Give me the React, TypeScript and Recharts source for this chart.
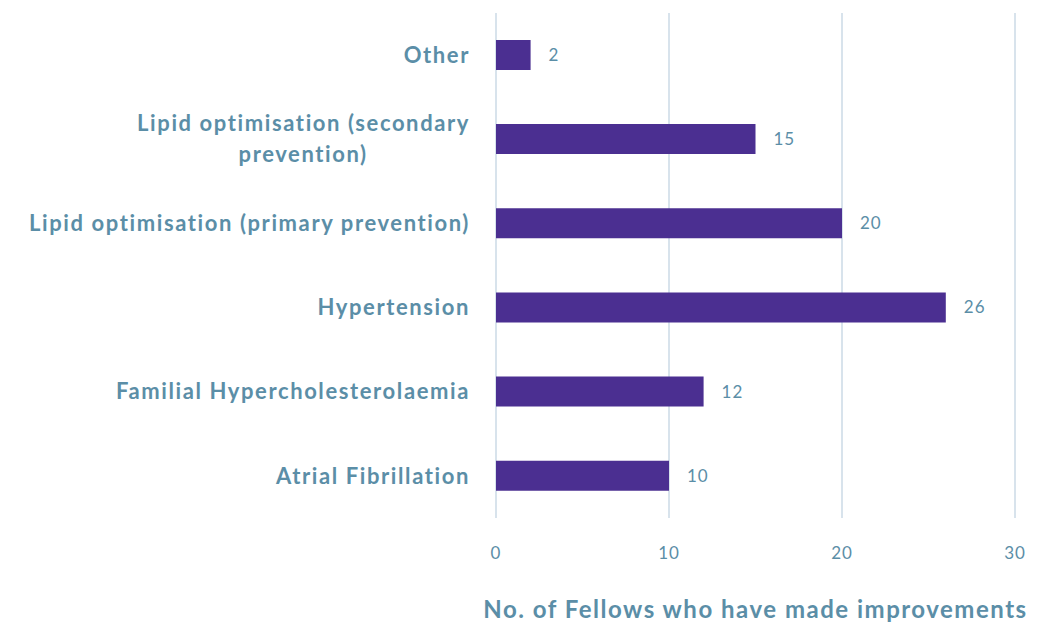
import React from 'react'
import { BarChart, Bar, XAxis, YAxis, CartesianGrid, LabelList, Label } from 'recharts'

const categories = [
  'Other',
  'Lipid optimisation (secondary prevention)',
  'Lipid optimisation (primary prevention)',
  'Hypertension',
  'Familial Hypercholesterolaemia',
  'Atrial Fibrillation',
]
const fellows = [2, 15, 20, 26, 12, 10]
const xTicks = [0, 10, 20, 30]
const axisTitle = 'No. of Fellows who have made improvements'

// where long category names break onto a second line
const labelBreaks: Record<string, string[]> = {
  'Lipid optimisation (secondary prevention)': ['Lipid optimisation (secondary', 'prevention)'],
}

const data = categories.map((name, i) => ({ name, value: fellows[i] }))

const TEXT = '#5b8ea7'
const BAR = '#4b2f91'
const FONT = 'Lato, "Open Sans", sans-serif'
const CAT_FONT_SIZE = 22
const CAT_SPACING = 1.6

let ctx: CanvasRenderingContext2D | null = null
function measure(s: string) {
  if (!ctx) ctx = document.createElement('canvas').getContext('2d')
  if (!ctx) return s.length * 12
  ctx.font = `bold ${CAT_FONT_SIZE}px Lato`
  return ctx.measureText(s).width + s.length * CAT_SPACING
}

// category tick: right aligned, extra lines centred under the first one
function CategoryTick({ x, y, payload }: any) {
  const lines = labelBreaks[payload.value] ?? [payload.value]
  const right = x - 18
  const lh = 31
  const y0 = y - ((lines.length - 1) * lh) / 2
  const w = measure(lines[0])
  return (
    <g>
      {lines.map((l, i) => (
        <text
          key={i}
          x={i === 0 ? right : right - w / 2}
          y={y0 + i * lh}
          dy="0.35em"
          textAnchor={i === 0 ? 'end' : 'middle'}
          fill={TEXT}
          fontFamily={FONT}
          fontWeight={700}
          fontSize={CAT_FONT_SIZE}
          letterSpacing={CAT_SPACING}
        >
          {l}
        </text>
      ))}
    </g>
  )
}

export default function App() {
  return (
    <div style={{ position: 'absolute', left: 0, top: 0, background: '#fff' }}>
      <BarChart
        width={1041}
        height={622}
        data={data}
        layout="vertical"
        margin={{ top: 13, right: 26, left: 0, bottom: 0 }}
        barCategoryGap="32%"
      >
        <CartesianGrid horizontal={false} stroke="#d8e3ec" strokeWidth={2} />
        <XAxis
          type="number"
          domain={[0, 30]}
          ticks={xTicks}
          axisLine={false}
          tickLine={false}
          height={104}
          tickMargin={23}
          tick={{ fill: TEXT, fontSize: 17, fontFamily: FONT, letterSpacing: 1 }}
        >
          <Label
            value={axisTitle}
            position="insideBottom"
            offset={4}
            fill={TEXT}
            fontFamily={FONT}
            fontWeight={700}
            fontSize={24}
            letterSpacing={1.5}
          />
        </XAxis>
        <YAxis
          type="category"
          dataKey="name"
          width={496}
          axisLine={false}
          tickLine={false}
          tick={<CategoryTick />}
          interval={0}
        />
        <Bar dataKey="value" fill={BAR} isAnimationActive={false}>
          <LabelList
            dataKey="value"
            position="right"
            offset={18}
            fill={TEXT}
            fontFamily={FONT}
            fontSize={17}
            letterSpacing={1}
          />
        </Bar>
      </BarChart>
    </div>
  )
}
